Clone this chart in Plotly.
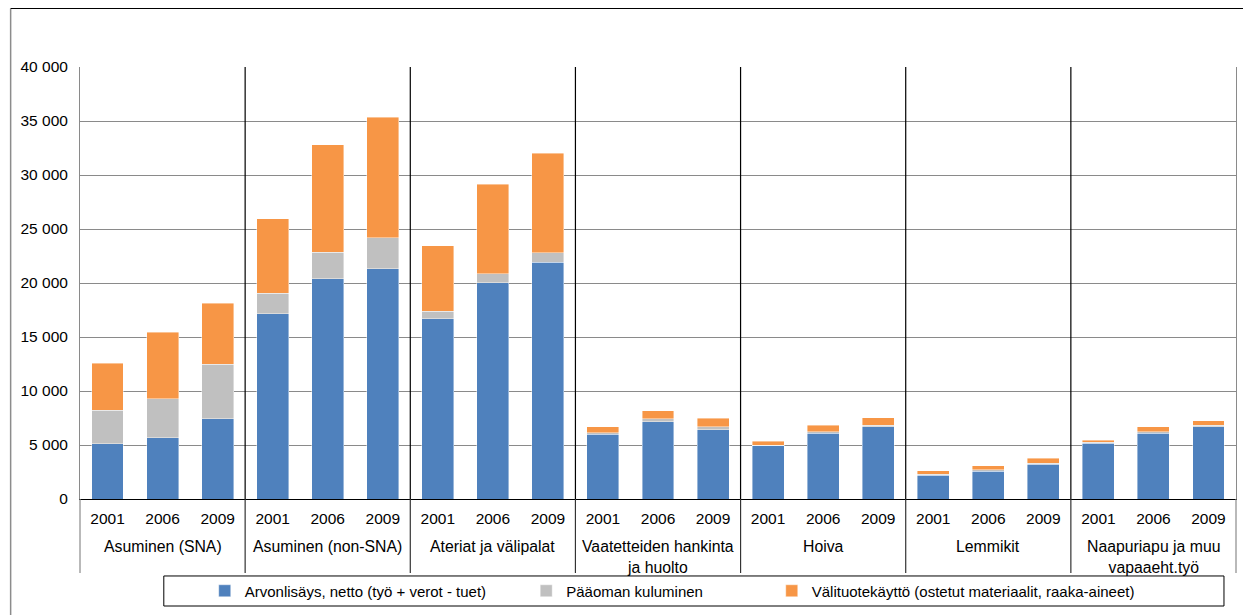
import plotly.graph_objects as go

groups = ["Asuminen (SNA)", "Asuminen (non-SNA)", "Ateriat ja välipalat",
          "Vaatetteiden hankinta<br>ja huolto", "Hoiva", "Lemmikit",
          "Naapuriapu ja muu<br>vapaaeht.työ"]
years = ["2001", "2006", "2009"]

series_names = ["Arvonlisäys, netto (työ + verot - tuet)",
                "Pääoman kuluminen",
                "Välituotekäyttö (ostetut materiaalit, raaka-aineet)"]

arvonlisays = [5100, 5650, 7440, 17160, 20400, 21300, 16700, 20030, 21900,
               5990, 7160, 6420, 4940, 6080, 6700, 2190, 2560, 3210,
               5150, 6110, 6700]
paaoma = [3110, 3610, 5030, 1910, 2470, 2870, 700, 830, 880,
          150, 250, 250, 50, 150, 150, 120, 150, 90,
          100, 120, 120]
valituote = [4350, 6170, 5650, 6880, 9910, 11200, 6030, 8280, 9220,
             530, 740, 800, 380, 620, 680, 310, 370, 470,
             180, 470, 430]

colors = ["#4F81BD", "#C0C0C0", "#F79646"]
legend_ids = ["legend", "legend2", "legend3"]
legend_x = [0.1079, 0.3860, 0.5984]

ny = len(years)
n = len(groups)
xpos = [gi * ny + yi for gi in range(n) for yi in range(ny)]
xtext = [y for _ in groups for y in years]

fig = go.Figure()
for name, vals, col, lid in zip(series_names, [arvonlisays, paaoma, valituote], colors, legend_ids):
    fig.add_trace(go.Bar(
        x=xpos, y=vals, name=name, legend=lid,
        marker=dict(color=col, line=dict(color="rgba(255,255,255,0.7)", width=0.6)),
    ))

# vertical separators between groups inside the plot area
for i in range(1, n):
    fig.add_shape(type="line", xref="x domain", yref="y domain",
                  x0=i / n, x1=i / n, y0=0, y1=1,
                  line=dict(color="#000000", width=1.2))

# dividers in the category label area
for i in range(0, n + 1):
    fig.add_shape(type="line", xref="x domain", yref="paper",
                  x0=i / n, x1=i / n, y0=0, y1=-0.1713,
                  line=dict(color="#333333" if 0 < i < n else "#8a8a8a", width=1.2))

# group labels
for i, g in enumerate(groups):
    fig.add_annotation(xref="x domain", yref="paper", x=(i + 0.5) / n, y=-0.085,
                       text=g, showarrow=False, xanchor="center", yanchor="top",
                       font=dict(size=15.8))

# outer chart border (left and top)
fig.add_shape(type="line", xref="paper", yref="paper", x0=-0.0600, x1=-0.0600,
              y0=1.1354, y1=-0.35, line=dict(color="#8c8c8c", width=1.5))
fig.add_shape(type="line", xref="paper", yref="paper", x0=-0.0600, x1=1.05,
              y0=1.1354, y1=1.1354, line=dict(color="#000000", width=1.2))

# legend box
fig.add_shape(type="rect", xref="paper", yref="paper", x0=0.0725, x1=0.9896,
              y0=-0.2477, y1=-0.1782, line=dict(color="#000000", width=1),
              fillcolor="rgba(0,0,0,0)")

legend_common = dict(orientation="h", y=-0.213, yanchor="middle", xanchor="left",
                     font=dict(size=15), bgcolor="rgba(0,0,0,0)", itemwidth=30)

fig.update_layout(
    width=1243, height=613,
    margin=dict(l=70, r=15, t=59, b=122),
    barmode="stack", bargap=0.42,
    plot_bgcolor="white", paper_bgcolor="white",
    separators=", ",
    font=dict(family="Liberation Sans, Arial, sans-serif", size=15.5, color="#000000"),
    showlegend=True,
    legend=dict(x=legend_x[0], **legend_common),
    legend2=dict(x=legend_x[1], **legend_common),
    legend3=dict(x=legend_x[2], **legend_common),
)
fig.update_yaxes(range=[0, 40000], dtick=5000, tickformat=",d",
                 separatethousands=True, showgrid=True, gridcolor="#8a8a8a",
                 gridwidth=1, showline=True, linecolor="#8a8a8a", linewidth=1,
                 mirror=True, ticks="", ticklabelstandoff=8, zeroline=False)
fig.update_xaxes(range=[-0.5, n * ny - 0.5], tickmode="array", tickvals=xpos,
                 ticktext=xtext, showline=True, linecolor="#000000", linewidth=1.2,
                 ticks="", showgrid=False, zeroline=False, ticklabelstandoff=5)

fig.write_html("out.html")
